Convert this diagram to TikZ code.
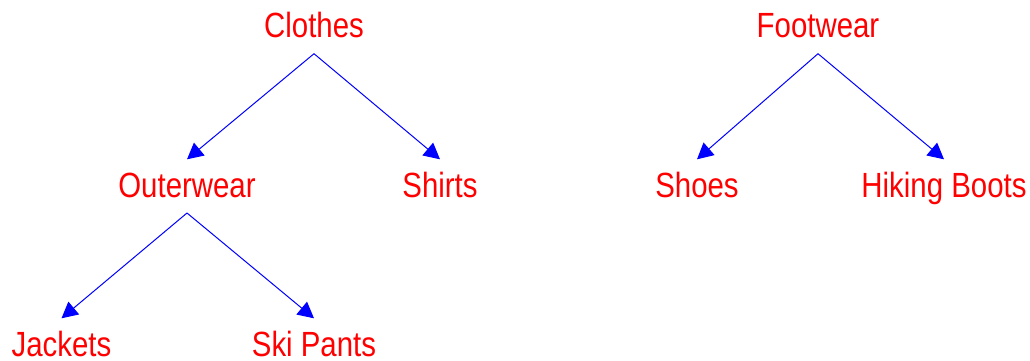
\documentclass[tikz,border=0pt]{standalone}
\usepackage{fontspec}
\setmainfont{Liberation Sans}[FakeStretch=0.84]
\usetikzlibrary{arrows.meta}
\definecolor{labelred}{RGB}{255,0,0}
\definecolor{linkblue}{RGB}{0,0,255}
\tikzset{
  item/.style={anchor=base, inner sep=0pt, text=labelred,
    font=\fontsize{35}{42}\selectfont},
  link/.style={draw=linkblue, line width=1pt,
    -{Triangle[length=16pt, width=16.5pt]}}
}
% parent/child link: from just below the parent's baseline to just above the child's letters
\newcommand{\treelink}[2]{\draw[link] ([yshift=-16pt]#1.base) -- ([yshift=37.7pt]#2.base);}
\begin{document}
\begin{tikzpicture}[x=1pt, y=-1pt]
  \useasboundingbox (0,0) rectangle (1030,360);
  % first tree
  \node[item] (clothes)   at (314,37.7)  {Clothes};
  \node[item] (outerwear) at (187,197)   {Outerwear};
  \node[item] (shirts)    at (440,197)   {Shirts};
  \node[item] (jackets)   at (61.5,356)  {Jackets};
  \node[item] (skipants)  at (314,356)   {Ski Pants};
  % second tree
  \node[item] (footwear)  at (818,37.7)  {Footwear};
  \node[item] (shoes)     at (697,197)   {Shoes};
  \node[item] (boots)     at (944,197)   {Hiking Boots};

  \treelink{clothes}{outerwear}
  \treelink{clothes}{shirts}
  \treelink{outerwear}{jackets}
  \treelink{outerwear}{skipants}
  \treelink{footwear}{shoes}
  \treelink{footwear}{boots}
\end{tikzpicture}
\end{document}
